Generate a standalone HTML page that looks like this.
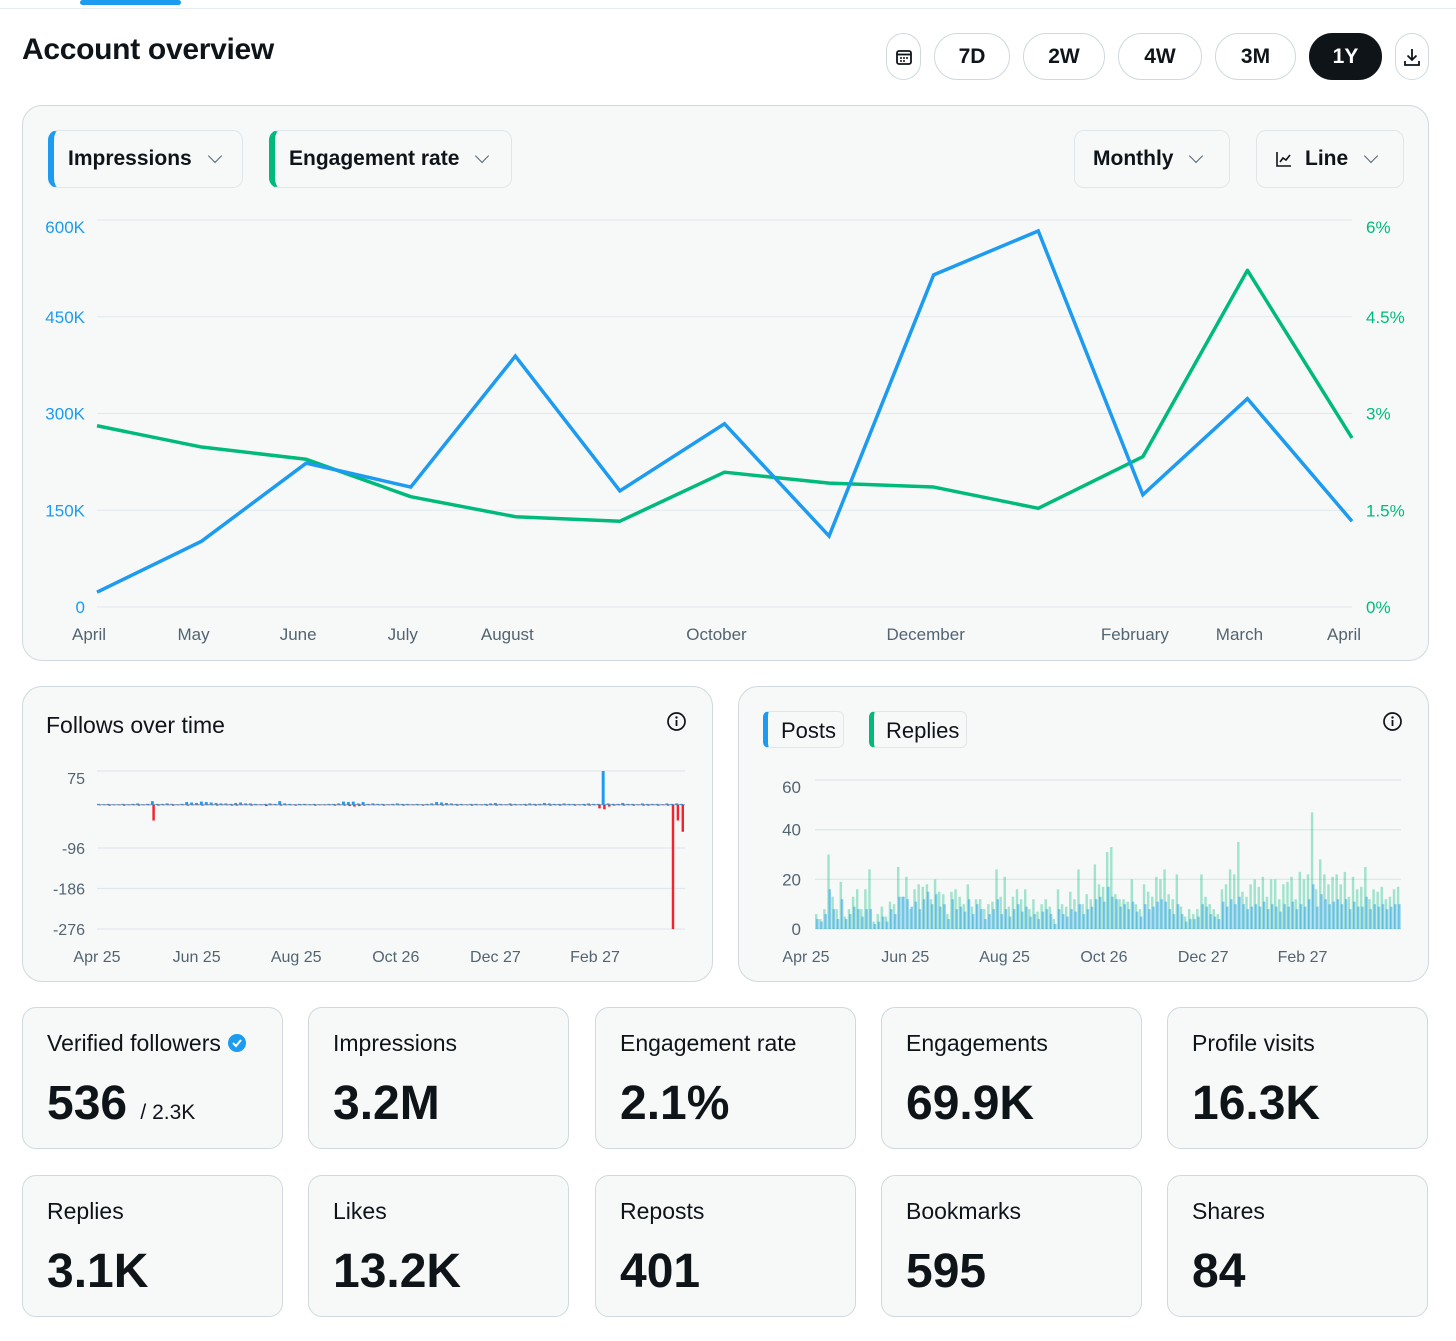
<!DOCTYPE html>
<html><head><meta charset="utf-8">
<style>
*{box-sizing:border-box;margin:0;padding:0}
body{width:1456px;height:1341px;background:#fff;font-family:"Liberation Sans",sans-serif;color:#0f1419;position:relative;overflow:hidden}
.abs{position:absolute}
.card{position:absolute;background:#f7f9f9;border:1.5px solid #cfd9de;border-radius:20px}
.pill{position:absolute;top:33px;height:47px;border:1.5px solid #cfd9de;border-radius:24px;font-weight:bold;font-size:21px;display:flex;align-items:center;justify-content:center;background:#fff}
.dd{position:absolute;top:130px;height:58px;border:1.5px solid #dfe6ea;border-radius:10px;background:#f7f9f9;font-weight:bold;font-size:21px;display:flex;align-items:center;padding-left:14px}
.chev{width:10px;height:10px;border-right:1.8px solid #536471;border-bottom:1.8px solid #536471;transform:rotate(45deg);margin-left:18px;margin-top:-6px}
.stat{position:absolute;width:261px;height:142px;background:#f7f9f9;border:1.5px solid #cfd9de;border-radius:14px}
.stat .l{position:absolute;left:24px;top:22px;font-size:23px;color:#0f1419}
.stat .v{position:absolute;left:24px;top:68px;font-size:48px;font-weight:bold}
svg text{font-family:"Liberation Sans",sans-serif}
</style></head><body>
<div class="abs" style="left:0;top:8px;width:1456px;height:1px;background:#e6ecf0"></div>
<div class="abs" style="left:80px;top:0;width:101px;height:5px;background:#1d9bf0;border-radius:3px"></div>
<div class="abs" style="left:22px;top:33px;font-size:30px;font-weight:bold;letter-spacing:-0.3px">Account overview</div>

<div class="pill" style="left:886px;width:35px"><svg width="18" height="18" viewBox="0 0 18 18"><rect x="2" y="3" width="14" height="13" rx="2" fill="none" stroke="#0f1419" stroke-width="1.8"/><line x1="2" y1="6.5" x2="16" y2="6.5" stroke="#0f1419" stroke-width="1.8"/><circle cx="6" cy="10" r="1" fill="#0f1419"/><circle cx="9" cy="10" r="1" fill="#0f1419"/><circle cx="12" cy="10" r="1" fill="#0f1419"/><circle cx="6" cy="13" r="1" fill="#0f1419"/><circle cx="9" cy="13" r="1" fill="#0f1419"/></svg></div>
<div class="pill" style="left:934px;width:76px">7D</div>
<div class="pill" style="left:1023px;width:82px">2W</div>
<div class="pill" style="left:1118px;width:84px">4W</div>
<div class="pill" style="left:1215px;width:81px">3M</div>
<div class="pill" style="left:1309px;width:73px;background:#0f1419;color:#fff;border-color:#0f1419">1Y</div>
<div class="pill" style="left:1395px;width:34px"><svg width="18" height="20" viewBox="0 0 18 20"><path d="M9 2v11M4.5 8.5L9 13l4.5-4.5M2 14v4h14v-4" fill="none" stroke="#0f1419" stroke-width="1.8"/></svg></div>

<div class="card" style="left:22px;top:105px;width:1407px;height:556px"></div>
<div class="dd" style="left:48px;width:195px;border-left:6px solid #1d9bf0">Impressions<span class="chev"></span></div>
<div class="dd" style="left:269px;width:243px;border-left:6px solid #00ba7c">Engagement rate<span class="chev"></span></div>
<div class="dd" style="left:1074px;width:156px;padding-left:18px">Monthly<span class="chev"></span></div>
<div class="dd" style="left:1256px;width:148px;padding-left:18px"><svg width="18" height="18" viewBox="0 0 18 18" style="margin-right:12px"><path d="M2 2v14h14M5 12l3-4 3 2 4-5" fill="none" stroke="#0f1419" stroke-width="1.6"/></svg>Line<span class="chev"></span></div>

<svg id="main" class="abs" style="left:0;top:0" width="1456" height="680"></svg>

<div class="card" style="left:22px;top:686px;width:691px;height:296px"></div>
<div class="abs" style="left:46px;top:712px;font-size:23px">Follows over time</div>
<div class="card" style="left:738px;top:686px;width:691px;height:296px"></div>
<div class="abs" style="left:763px;top:711px;height:37px;width:81px;border:1.5px solid #dfe6ea;border-radius:6px;font-size:22px;padding:6px 0 0 13px;border-left:5px solid #1d9bf0;background:#f7f9f9">Posts</div>
<div class="abs" style="left:869px;top:711px;height:37px;width:98px;border:1.5px solid #dfe6ea;border-radius:6px;font-size:22px;padding:6px 0 0 12px;border-left:5px solid #00ba7c;background:#f7f9f9">Replies</div>
<svg class="abs" style="left:666px;top:711px" width="21" height="21" viewBox="0 0 21 21"><circle cx="10.5" cy="10.5" r="8.5" fill="none" stroke="#0f1419" stroke-width="1.7"/><circle cx="10.5" cy="6.5" r="1.2" fill="#0f1419"/><line x1="10.5" y1="9" x2="10.5" y2="15" stroke="#0f1419" stroke-width="1.8"/></svg>
<svg class="abs" style="left:1382px;top:711px" width="21" height="21" viewBox="0 0 21 21"><circle cx="10.5" cy="10.5" r="8.5" fill="none" stroke="#0f1419" stroke-width="1.7"/><circle cx="10.5" cy="6.5" r="1.2" fill="#0f1419"/><line x1="10.5" y1="9" x2="10.5" y2="15" stroke="#0f1419" stroke-width="1.8"/></svg>
<svg id="fol" class="abs" style="left:0;top:0" width="1456" height="990"></svg>
<svg id="pr" class="abs" style="left:0;top:0" width="1456" height="990"></svg>

<div class="stat" style="left:22px;top:1007px"><div class="l">Verified followers <svg width="20" height="20" viewBox="0 0 20 20" style="vertical-align:-2px"><circle cx="10" cy="10" r="9" fill="#1d9bf0"/><path d="M6 10l3 3 5-6" fill="none" stroke="#fff" stroke-width="2"/></svg></div><div class="v">536 <span style="font-size:21px;font-weight:normal">/ 2.3K</span></div></div>
<div class="stat" style="left:308px;top:1007px"><div class="l">Impressions</div><div class="v">3.2M</div></div>
<div class="stat" style="left:595px;top:1007px"><div class="l">Engagement rate</div><div class="v">2.1%</div></div>
<div class="stat" style="left:881px;top:1007px"><div class="l">Engagements</div><div class="v">69.9K</div></div>
<div class="stat" style="left:1167px;top:1007px"><div class="l">Profile visits</div><div class="v">16.3K</div></div>
<div class="stat" style="left:22px;top:1175px"><div class="l">Replies</div><div class="v">3.1K</div></div>
<div class="stat" style="left:308px;top:1175px"><div class="l">Likes</div><div class="v">13.2K</div></div>
<div class="stat" style="left:595px;top:1175px"><div class="l">Reposts</div><div class="v">401</div></div>
<div class="stat" style="left:881px;top:1175px"><div class="l">Bookmarks</div><div class="v">595</div></div>
<div class="stat" style="left:1167px;top:1175px"><div class="l">Shares</div><div class="v">84</div></div>

<script>
const months=["April","May","June","July","August","","October","","December","","February","March","April"];
const impressions=[23,102,223,186,389,180,284,110,515,583,174,323,133];
const engagementRate=[2.81,2.48,2.29,1.71,1.40,1.33,2.09,1.92,1.86,1.53,2.33,5.22,2.62];
const leftTicks=[0,150,300,450,600];
const leftTickLabels=["0","150K","300K","450K","600K"];
const rightTicks=[0,1.5,3,4.5,6];
const rightTickLabels=["0%","1.5%","3%","4.5%","6%"];

const followGains=[2,1,2,1,1,2,1,2,3,1,2,8,2,2,3,2,1,2,6,5,4,7,6,5,4,3,3,2,4,5,3,3,2,1,2,3,2,8,3,2,1,2,2,1,2,1,1,2,2,3,7,6,7,3,6,2,3,2,2,1,2,3,2,2,1,2,1,2,3,6,5,4,3,2,2,1,2,2,1,2,3,4,2,1,3,2,1,2,3,2,2,4,3,2,2,3,2,2,1,2,3,2,2,75,3,2,2,4,2,2,1,3,2,2,2,1,3,2,3,2];
const followLosses=[1,1,2,1,1,2,1,1,2,1,1,35,2,1,1,2,1,1,2,1,1,2,1,1,2,1,1,2,2,1,1,2,1,1,3,1,1,2,1,1,2,1,1,1,2,1,1,1,2,1,2,3,4,3,2,1,1,1,2,1,1,1,2,1,1,1,2,1,1,1,2,1,1,2,1,1,2,1,1,2,1,2,1,1,2,1,1,2,1,2,1,1,2,1,2,1,1,2,1,2,2,1,8,10,4,2,1,2,1,2,1,2,2,1,2,1,2,276,35,60];
const followTicks=[75,-96,-186,-276];
const dateLabels=["Apr 25","Jun 25","Aug 25","Oct 26","Dec 27","Feb 27"];

const replies=[6,4,8,30,13,8,19,5,8,13,16,8,16,24,3,6,9,5,11,10,25,13,21,8,16,18,17,18,12,20,15,14,6,15,16,13,10,18,9,12,12,8,10,11,24,13,21,9,13,16,12,16,8,12,7,10,12,9,4,16,10,9,15,12,24,10,14,12,26,18,17,31,33,14,12,12,11,20,10,8,18,15,13,21,20,24,14,12,22,9,5,8,6,8,22,13,10,8,6,16,18,24,22,35,15,13,18,20,17,21,13,20,20,12,18,19,21,12,23,20,22,47,16,28,22,18,21,22,18,23,13,21,16,17,25,12,16,15,17,12,13,16,17];
const posts=[4,3,6,16,8,4,12,4,6,9,8,5,8,8,2,3,5,3,8,6,13,13,12,9,11,8,12,15,10,14,9,10,4,12,8,9,7,12,6,10,8,4,6,8,12,6,8,5,8,10,7,9,5,6,4,7,8,6,2,8,6,5,8,7,10,6,8,9,12,13,11,17,13,12,9,10,8,11,7,5,10,8,9,11,12,11,8,6,10,6,3,4,4,5,10,9,6,5,4,11,9,12,10,13,10,8,9,10,9,11,8,10,9,7,10,9,11,8,10,9,12,18,9,14,12,10,11,12,10,12,8,11,9,9,13,8,10,9,10,8,9,10,10];
const prTicks=[0,20,40,60];

const NS="http://www.w3.org/2000/svg";
function mk(svg,tag,attrs,text){const e=document.createElementNS(NS,tag);for(const k in attrs)e.setAttribute(k,attrs[k]);if(text!==undefined)e.textContent=text;svg.appendChild(e);return e;}

(function(){
const svg=document.getElementById('main');
const x0=97,x1=1352,yb=607,yt=220;
const xs=i=>x0+(x1-x0)*i/(months.length-1);
const yl=v=>yb-(yb-yt)*v/600;
const yr=v=>yb-(yb-yt)*v/6;
leftTicks.forEach((t,i)=>{
 const g=mk(svg,'line',{x1:97,x2:1352,y1:yl(t),y2:yl(t),stroke:'#e1e8ed','stroke-width':1});
 
 const off=(t===600)?13:6;
 const a=mk(svg,'text',{x:85,y:yl(t)+off,'text-anchor':'end','font-size':17,fill:'#1d9bf0'},leftTickLabels[i]);
 
});
rightTicks.forEach((t,i)=>{
 const off=(t===6)?13:6;
 const a=mk(svg,'text',{x:1366,y:yr(t)+off,'font-size':17,fill:'#00ba7c'},rightTickLabels[i]);
 
});
months.forEach((m,i)=>{if(!m)return;
 const a=mk(svg,'text',{x:xs(i)-8,y:640,'text-anchor':'middle','font-size':17,fill:'#536471'},m);
 
});
const ep=mk(svg,'polyline',{points:engagementRate.map((v,i)=>xs(i)+','+yr(v)).join(' '),fill:'none',stroke:'#00ba7c','stroke-width':3.5,'stroke-linejoin':'round'});

const ip=mk(svg,'polyline',{points:impressions.map((v,i)=>xs(i)+','+yl(v)).join(' '),fill:'none',stroke:'#1d9bf0','stroke-width':3.5,'stroke-linejoin':'miter'});

})();

(function(){
const svg=document.getElementById('fol');
const x0=97,x1=685,y75=771,y276=929;
const y=v=>y75+(75-v)*(y276-y75)/351;
followTicks.forEach(t=>{
 const g=mk(svg,'line',{x1:97,x2:685,y1:y(t),y2:y(t),stroke:'#e1e8ed','stroke-width':1.3});
 
 const off=(t===75)?13:6;
 const a=mk(svg,'text',{x:85,y:y(t)+off,'text-anchor':'end','font-size':16,fill:'#536471'},String(t));
 
});
dateLabels.forEach((d,i)=>{
 const a=mk(svg,'text',{x:97+i*99.6,y:962,'text-anchor':'middle','font-size':16,fill:'#536471'},d);
 
});
const n=followGains.length,w=(x1-x0)/n;
const base=mk(svg,'line',{x1:x0,x2:x1,y1:y(0),y2:y(0),stroke:'#8899a6','stroke-width':1});

followGains.forEach((v,i)=>{
 const r=mk(svg,'rect',{x:x0+i*w,y:y(v),width:Math.max(w*0.6,1.5),height:y(0)-y(v),fill:'#1d9bf0'});
 
});
followLosses.forEach((v,i)=>{
 const r=mk(svg,'rect',{x:x0+i*w+w*0.3,y:y(0),width:Math.max(w*0.5,1.5),height:y(-v)-y(0),fill:'#f4212e'});
 
});
})();

(function(){
const svg=document.getElementById('pr');
const x0=815,x1=1401,yb=929,yt=780;
const y=v=>yb-(yb-yt)*v/60;
prTicks.forEach(t=>{
 const g=mk(svg,'line',{x1:815,x2:1401,y1:y(t),y2:y(t),stroke:'#e1e8ed','stroke-width':1.3});
 
 const off=(t===60)?13:6;
 const a=mk(svg,'text',{x:801,y:y(t)+off,'text-anchor':'end','font-size':17,fill:'#536471'},String(t));
 
});
dateLabels.forEach((d,i)=>{
 const a=mk(svg,'text',{x:806+i*99.3,y:962,'text-anchor':'middle','font-size':16,fill:'#536471'},d);
 
});
const n=replies.length,w=(x1-x0)/n;
replies.forEach((v,i)=>{
 const r=mk(svg,'rect',{x:x0+i*w,y:y(v),width:w*0.6,height:yb-y(v),fill:'#00ba7c','fill-opacity':0.35});
 
});
const m=posts.length,w2=(x1-x0)/m;
posts.forEach((v,i)=>{
 const r=mk(svg,'rect',{x:x0+i*w2+w2*0.3,y:y(v),width:w2*0.6,height:yb-y(v),fill:'#1d9bf0','fill-opacity':0.5});
 
});
})();
</script>
</body></html>
